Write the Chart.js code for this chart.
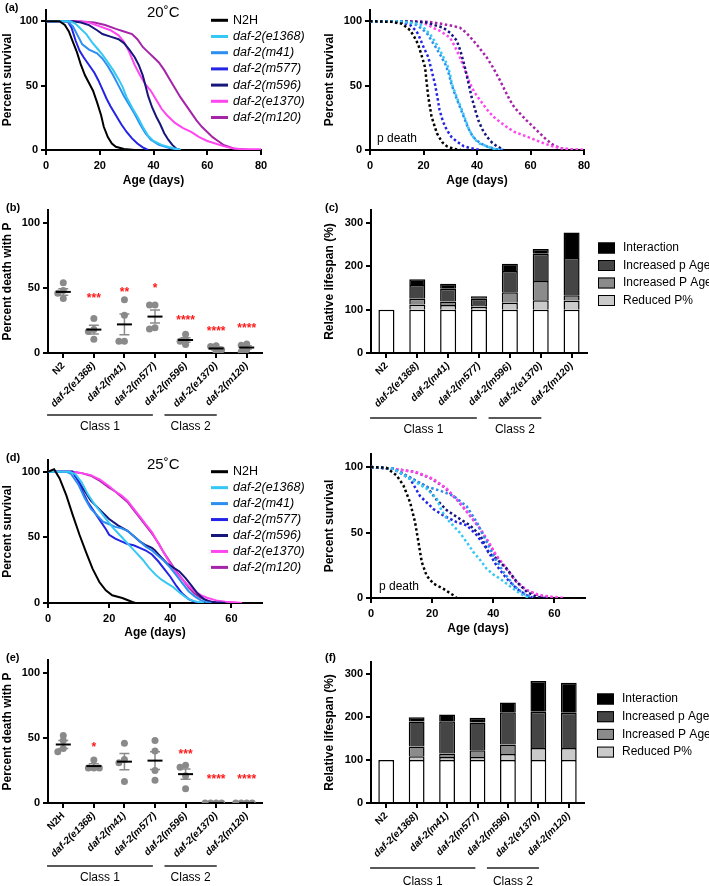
<!DOCTYPE html>
<html>
<head>
<meta charset="utf-8">
<script src="https://cdn.jsdelivr.net/npm/chart.js@4.4.1/dist/chart.umd.min.js"></script>
<style>
  body { margin: 0; background: #fff; font-family: 'Liberation Sans', Arial, sans-serif; }
  #fig { position: relative; width: 709px; height: 886px; overflow: hidden; }
  #fig canvas { position: absolute; }
  .lab { position: absolute; font-size: 11px; font-weight: bold; }
  .temp { position: absolute; font-size: 15px; }
</style>
</head>
<body>
<div id="fig">
  <canvas id="cA" width="330" height="195" style="left:0;top:0"></canvas>
  <canvas id="cA2" width="330" height="195" style="left:322px;top:0"></canvas>
  <canvas id="cB" width="330" height="244" style="left:0;top:195px"></canvas>
  <canvas id="cC" width="387" height="244" style="left:322px;top:195px"></canvas>
  <canvas id="cD" width="330" height="207" style="left:0;top:435px"></canvas>
  <canvas id="cD2" width="330" height="207" style="left:322px;top:435px"></canvas>
  <canvas id="cE" width="330" height="244" style="left:0;top:642px"></canvas>
  <canvas id="cF" width="387" height="244" style="left:322px;top:642px"></canvas>
  <div class="lab" style="left:5px;top:1px">(a)</div>
  <div class="lab" style="left:6px;top:201px">(b)</div>
  <div class="lab" style="left:325px;top:201px">(c)</div>
  <div class="lab" style="left:6px;top:451px">(d)</div>
  <div class="lab" style="left:6px;top:651px">(e)</div>
  <div class="lab" style="left:325px;top:651px">(f)</div>
  <div class="temp" style="left:147px;top:3px">20˚C</div>
  <div class="temp" style="left:147px;top:455px">25˚C</div>
</div>
<script>
// ---- data ----
var strains = ["N2H", "daf-2(e1368)", "daf-2(m41)", "daf-2(m577)", "daf-2(m596)", "daf-2(e1370)", "daf-2(m120)"];
var catsB = ["N2", "daf-2(e1368)", "daf-2(m41)", "daf-2(m577)", "daf-2(m596)", "daf-2(e1370)", "daf-2(m120)"];
var catsE = ["N2H", "daf-2(e1368)", "daf-2(m41)", "daf-2(m577)", "daf-2(m596)", "daf-2(e1370)", "daf-2(m120)"];
var classNames = ["Class 1", "Class 2"];

// 20C survival (day, %)
var s20_N2H = [[0,100],[5,100],[7,97],[8.5,92],[10,84],[11.5,76],[13,66],[14.5,58],[16,52],[17.5,46],[19,37],[20.5,27],[21.5,18],[23,10],[24.5,5],[26,2.5],[29,0.8],[33,0]];
var s20_e1368 = [[0,100],[9,100],[11,98],[13,94],[15,90],[17,84],[19,79],[21,74],[23,68],[25,62],[27,55],[28.5,49],[30,41],[32,33],[34,26],[36,18],[38,11],[40,7],[43,4],[47,1.5],[50,0]];
var s20_m41 = [[0,100],[8,100],[10,96],[12,88],[13.5,82],[16,78],[19,75],[21,71],[23,65],[25,58],[27,50],[29,42],[31,35],[33,28],[35,20],[37,13],[39,8],[42,4],[46,1.5],[50,0]];
var s20_m577 = [[0,100],[8,100],[9.5,95],[11,85],[12.5,77],[14,72],[16,66],[18,60],[19.5,54],[21,47],[22.5,40],[24,34],[26,27],[28,20],[30,14],[32,9],[34,5],[36,2],[38,0]];
var s20_m596 = [[0,100],[10,100],[13,99],[16,97],[19,93],[21,90],[24,88],[27,86],[29,83],[31,78],[33,72],[34.5,66],[36,58],[37,50],[38,42],[39.5,33],[41,26],[42.5,20],[44,13],[45.5,8],[47,4],[48.5,1],[50,0]];
var s20_e1370 = [[0,100],[12,100],[16,99],[20,96],[24,93],[27,89],[29,84],[31,76],[33,66],[35,58],[37,51],[39,46],[41,39],[43,32],[45,27],[48,21],[51,17],[54,14],[57,10],[60,7],[63,5],[66,3],[69,1.5],[72,0.8],[80,0.5]];
var s20_m120 = [[0,100],[12,100],[18,99],[22,97],[26,94],[29,92],[32,90],[34,86],[36,80],[38,76],[40,72],[42,68],[44,62],[46,55],[48,48],[50,41],[52,35],[54,29],[56,23],[58,18],[60,14],[62,10],[64,7],[66,4],[68,2.5],[70,1],[73,0.5],[76,0]];

// 20C p death
var p20_N2H = [[0,100],[8,99.5],[12,98],[15,93],[16.5,88],[18,82],[19.5,72],[20.6,64],[21.2,52],[21.8,41],[23,26],[25,13],[27,6],[28.7,3],[31,1],[34,0]];
var p20_e1368 = [[0,100],[10,100],[15,99],[18.7,97.7],[20.5,94],[22.4,90],[24,85],[25.5,80],[27,74],[28.7,67],[29.8,60],[30.6,51.5],[32.4,41],[34,33],[34.9,28],[36.8,17],[38,12],[39.3,8],[41,5],[43.6,3],[46,1],[48.6,0]];
var p20_m41 = [[0,100],[10,100],[14,99],[17.5,97],[19.5,94],[21.5,90],[23,85],[24.5,80],[26.5,73],[28.3,66],[29.5,59],[30.3,52],[31.8,43],[33.5,34],[35,26],[36.5,18],[38,12],[39.5,8],[41.5,5],[44,2.5],[47,0.8],[50,0]];
var p20_m577 = [[0,100],[8,100],[12,99],[15,97],[17,93],[18,90],[20,80],[21.8,72],[23,62],[24.3,51],[25.2,41],[26,31],[27.3,22],[28.7,15.6],[30.5,10],[32.4,6.7],[35,3],[37.4,1.5],[41,0]];
var p20_m596 = [[0,100],[12,100],[17,99.5],[21,99],[24,97],[27.4,95],[30,91],[32.4,85],[33.8,77],[35.5,64],[36.8,52],[38,41],[39.2,32],[40.5,23],[42,16],[43.6,10.5],[45.5,6],[47.4,3],[50,0]];
var p20_e1370 = [[0,100],[14,100],[18,99.5],[21,97.7],[23.5,95],[26,92.6],[28,90],[30,87],[31.8,80],[33.6,72],[35.5,62],[37.4,51.5],[39,45],[41,39],[43.5,32],[46,26],[48.5,22],[51,18],[54,14],[58.6,10.5],[61.5,8],[64.8,5.4],[68,3],[71,1.5],[75,0.5],[79.7,0]];
var p20_m120 = [[0,100],[16,100],[22,99.5],[27.4,97.7],[30.5,96.5],[33.6,95],[36,91],[38.6,85],[41,79],[43.6,72],[46,64],[48.6,54],[50.5,46],[52.3,38.7],[54,33],[56,28.5],[58.5,23],[61,18],[63.5,13],[66,8],[68.5,4],[71,1.5],[74,0.5],[79.7,0]];

// 25C survival
var s25_N2H = [[0,100],[1,101],[2,102],[3.8,95],[6,82],[8.1,67],[10.3,52],[12.4,39],[14.6,26],[16.8,16],[18.9,9.7],[21,5.9],[24.3,3.8],[27.6,0.8],[28.6,0]];
var s25_e1368 = [[0,100],[7,100],[9,98],[11,92],[13,83],[15,76],[17,70],[19,64],[21,58],[23,53],[25,48],[27,43],[29,38],[31,33],[33,27],[35,22],[37,18],[39,15],[41,12],[43,8],[45,4.5],[47,2],[49,0.8],[51,0]];
var s25_m41 = [[0,100],[6,100],[7.5,98.5],[10,90],[12,80],[14,72],[16,67],[18,62],[20,60],[22,58],[24,57],[26,55],[28,51],[30,47],[32,43],[34,40],[36,36],[38,32],[40,27],[42,21],[44,15],[46,9],[48,5],[50,2],[52,0.5],[53.5,0]];
var s25_m577 = [[0,100],[8,100],[10,93],[11.5,84],[13,77],[15,70],[17,63],[19,56],[20,52],[22,49],[24,47],[26,45],[28,44],[30,42],[32,40],[34,37],[36,32],[38,26],[40,20],[42,13],[44,7],[46,3],[48,1],[50,0]];
var s25_m596 = [[0,100],[8,100],[11,89],[14,78],[17,71],[20,64],[23,59],[26,55],[28,51],[30,47],[32,44],[34,42],[35,40],[37,35],[39,30],[41,27],[43,24],[45,19],[47,13],[49,7],[51,3],[53,1],[55,0.5],[58,0]];
var s25_e1370 = [[0,100],[8,100],[11,99],[14,97.5],[17,94],[20,89],[22,85],[24,82],[26,78],[28,72],[30,66],[32,60],[34,54],[36,46],[38,38],[40,30],[42,23],[44,18],[46,13],[48,9],[50,6],[52,4],[55,2],[58,1],[61,0.5],[63.5,0]];
var s25_m120 = [[0,100],[8,100],[11,99],[14,97],[17,93],[20,88],[22,85],[24,81],[26,77],[28,71],[30,65],[32,59],[34,53],[36,46],[38,38],[40,31],[42,24],[44,18],[46,12],[48,7],[50,4],[52,2],[54,0.8],[56,0]];

// 25C p death
var p25_N2H = [[0,100],[5,99.5],[8.4,93.6],[10.6,86],[12.8,73],[14.4,58],[15.5,43],[16.6,27.5],[18.2,17],[20.4,11],[23.7,7],[27,2],[28,0]];
var p25_e1368 = [[0,100],[7.3,98.7],[12.8,91],[18.2,83.5],[21.5,76],[23,67],[25,60],[29,50],[31.5,42],[33.5,35],[35.7,29],[37.8,22.4],[40,18],[42.2,14.8],[46.6,7],[49,3],[51,0.8],[52,0]];
var p25_m41 = [[0,100],[7.3,98.7],[12.8,92],[18.2,85],[22.6,82],[27,78],[31.3,70],[34.6,58],[37.8,43],[40,32.6],[43.3,20],[46.6,9.7],[49.8,3.3],[53,0]];
var p25_m577 = [[0,100],[7.3,98.7],[12.8,91],[16,78],[20.4,68],[23.7,63],[28,58],[31.3,55.5],[34.6,48],[37.8,37.7],[41,25],[44.4,14.8],[47.7,7],[51,2],[53,0]];
var p25_m596 = [[0,100],[7.3,98.7],[12.8,92],[18.2,85],[21.5,75],[24.8,67],[28,62],[32.4,55.5],[35.7,48],[38.4,35],[41,30],[44.4,22.4],[47.7,12.2],[51,4.6],[54.2,0.8],[57.5,0]];
var p25_e1370 = [[0,100],[7.3,98.7],[15,96],[20.4,91],[24.8,83.5],[29,73],[32.4,63],[35.7,53],[38.4,43],[41,32.6],[44.4,22.4],[47.7,12.2],[51,5.9],[55.3,2],[59.7,0.8],[63.5,0]];
var p25_m120 = [[0,100],[7.3,98.7],[14,96.5],[19.5,91.5],[24,84.5],[28.5,74],[32,64],[35.3,54],[38,44],[40.6,33.5],[44,23],[47.3,13],[50.5,6.5],[54.5,2.3],[58,0.8],[61,0]];

// (b) percent death with P, 20C
var b_pts = [[54,48,46,42],[26.5,18,16.5,10.5],[41,29,9,9],[37,37,19.5,18.5],[14.5,10,9,6.5],[5.5,5,2.5,1],[7,6,2.5,1]];
var b_mean = [47, 18, 22, 28, 10, 3.5, 4.2];
var b_sem = [2.5, 3.4, 8, 5, 1.7, 1.2, 1.4];
var b_stars = ["", "***", "**", "*", "****", "****", "****"];
var b_starY = [null, 44, 48.5, 51.5, 27, 18.2, 20.5];

// (e) percent death with P, 25C
var e_pts = [[52,48,42,39.5],[33,27,27,27],[46,33.5,31,16.5],[48,40,25,17.5],[29,27.5,21,11],[0,0,0,0],[0,0,0,0]];
var e_mean = [45, 28.4, 31.8, 32.6, 22.2, 0, 0];
var e_sem = [3, 1.8, 6.2, 6.9, 4, 0, 0];
var e_stars = ["", "*", "", "", "***", "****", "****"];
var e_starY = [null, 44.6, null, null, 39, 19.8, 19.8];

// (c)/(f) relative lifespan parts
var barSeries = ["", "Reduced P%", "Increased P Age", "Increased p Age", "Interaction"];
var c_base = [100, 100, 100, 100, 100, 100, 100];
var c_reduced = [0, 12, 11, 7, 16, 22, 21];
var c_incP = [0, 13, 8, 4, 24, 44, 12];
var c_incp = [0, 32, 29, 14, 49, 63, 86];
var c_inter = [0, 13, 12, 6, 17, 11, 59];
var f_base = [100, 100, 100, 100, 100, 100, 100];
var f_reduced = [0, 8.5, 7, 7, 14, 28, 28];
var f_incP = [0, 23, 8, 15.5, 22, 0, 0];
var f_incp = [0, 58, 75, 65, 75, 84, 82];
var f_inter = [0, 10, 16, 11, 23, 72, 70];

// ---- styles ----
var FONT = "'Liberation Sans', Arial, sans-serif";
var strainColors = ["#000000", "#35c8f4", "#2b8ef0", "#2424e6", "#16167c", "#ff46f0", "#a524a8"];
var barFill = ["#ffffff", "#cacaca", "#8b8b8b", "#454545", "#000000"];
var classSpans = [[-0.53, 2.93], [3.31, 5.02]];

Chart.defaults.font.family = FONT;
Chart.defaults.color = "#000";
Chart.defaults.animation = false;

function tickGrid() {
  return { drawOnChartArea: false, tickLength: 5, color: "#000", lineWidth: 2 };
}

function yAxis(max, step, title, width) {
  return {
    type: "linear", min: 0, max: max,
    ticks: { stepSize: step, includeBounds: false, padding: 3, font: { size: 11, weight: "bold" } },
    grid: tickGrid(),
    border: { color: "#000", width: 2 },
    title: { display: true, text: title, font: { size: 12, weight: "bold" }, padding: 0 },
    afterFit: function (s) { s.width = width; }
  };
}

function xDays(max, height) {
  return {
    type: "linear", min: 0, max: max,
    ticks: { stepSize: 20, includeBounds: false, padding: 4, maxRotation: 0, font: { size: 11, weight: "bold" } },
    grid: tickGrid(),
    border: { color: "#000", width: 2 },
    title: { display: true, text: "Age (days)", font: { size: 12, weight: "bold" }, padding: { top: 0, bottom: 2 } },
    afterFit: function (s) { s.height = height; }
  };
}

function catFont(ctx) {
  return { size: 10, weight: "bold", style: ctx.index === 0 ? "normal" : "italic" };
}

// custom drawing: legends, mean/SEM, stars, class lines, notes
function extras(cfg) {
  return {
    id: "extras",
    afterDatasetsDraw: function (chart) {
      var ctx = chart.ctx, xs = chart.scales.x, ys = chart.scales.y, area = chart.chartArea;
      ctx.save();
      ctx.setLineDash([]);
      if (cfg.lineLegend) {
        var L = cfg.lineLegend;
        chart.data.datasets.forEach(function (ds, i) {
          var y = L.y + i * L.dy;
          ctx.strokeStyle = ds.borderColor;
          ctx.lineWidth = 3;
          ctx.beginPath(); ctx.moveTo(L.x, y); ctx.lineTo(L.x + 17, y); ctx.stroke();
          ctx.fillStyle = "#000";
          ctx.font = (i ? "italic " : "") + "12.5px " + FONT;
          ctx.textAlign = "left"; ctx.textBaseline = "middle";
          ctx.fillText(ds.label, L.x + 22, y);
        });
      }
      if (cfg.boxLegend) {
        var B = cfg.boxLegend;
        var sets = chart.data.datasets.filter(function (d) { return d.label; }).reverse();
        sets.forEach(function (ds, i) {
          var y = B.y + i * B.dy;
          ctx.fillStyle = ds.backgroundColor;
          ctx.fillRect(B.x, y - 5.5, 17, 11);
          ctx.strokeStyle = "#000"; ctx.lineWidth = 1;
          ctx.strokeRect(B.x + 0.5, y - 5, 16, 10);
          ctx.fillStyle = "#000";
          ctx.font = "12px " + FONT;
          ctx.textAlign = "left"; ctx.textBaseline = "middle";
          ctx.fillText(ds.label, B.x + 25, y);
        });
      }
      if (cfg.means) {
        cfg.means.mean.forEach(function (m, i) {
          var x = xs.getPixelForValue(i);
          var s = cfg.means.sem[i];
          if (s > 0) {
            var yt = ys.getPixelForValue(m + s), yb = ys.getPixelForValue(m - s);
            ctx.strokeStyle = "#8a8a8a"; ctx.lineWidth = 1.5;
            ctx.beginPath();
            ctx.moveTo(x, yt); ctx.lineTo(x, yb);
            ctx.moveTo(x - 5, yt); ctx.lineTo(x + 5, yt);
            ctx.moveTo(x - 5, yb); ctx.lineTo(x + 5, yb);
            ctx.stroke();
          }
          var ym = ys.getPixelForValue(m);
          ctx.strokeStyle = "#000"; ctx.lineWidth = 2;
          ctx.beginPath(); ctx.moveTo(x - 7.5, ym); ctx.lineTo(x + 7.5, ym); ctx.stroke();
        });
      }
      if (cfg.stars) {
        ctx.fillStyle = "#ff1a1a";
        ctx.font = "bold 12px " + FONT;
        ctx.textAlign = "center"; ctx.textBaseline = "alphabetic";
        cfg.stars.text.forEach(function (t, i) {
          if (!t) return;
          ctx.fillText(t, xs.getPixelForValue(i), ys.getPixelForValue(cfg.stars.y[i]) + 6);
        });
      }
      if (cfg.classes) {
        var C = cfg.classes;
        classSpans.forEach(function (sp, k) {
          var x1 = xs.getPixelForValue(sp[0]), x2 = xs.getPixelForValue(sp[1]);
          var yl = area.bottom + C.line;
          ctx.strokeStyle = "#222"; ctx.lineWidth = 1.5;
          ctx.beginPath(); ctx.moveTo(x1, yl); ctx.lineTo(x2, yl); ctx.stroke();
          ctx.fillStyle = "#000";
          ctx.font = "12px " + FONT;
          ctx.textAlign = "center"; ctx.textBaseline = "middle";
          ctx.fillText(classNames[k], (x1 + x2) / 2, area.bottom + C.text);
        });
      }
      if (cfg.note) {
        ctx.fillStyle = "#000";
        ctx.font = "12px " + FONT;
        ctx.textAlign = "left"; ctx.textBaseline = "middle";
        ctx.fillText(cfg.note.text, cfg.note.x, cfg.note.y);
      }
      ctx.restore();
    }
  };
}

function curveSets(curves, dotted) {
  return curves.map(function (c, i) {
    return {
      label: strains[i],
      data: c,
      showLine: true,
      pointRadius: 0,
      borderColor: strainColors[i],
      backgroundColor: strainColors[i],
      borderWidth: dotted ? 2.5 : 2,
      borderDash: dotted ? [2.5, 2.5] : [],
      tension: 0
    };
  });
}

function survivalChart(id, curves, dotted, xmax, ymax, pad, yW, xH, cfg) {
  return new Chart(document.getElementById(id), {
    type: "scatter",
    data: { datasets: curveSets(curves, dotted) },
    options: {
      responsive: false,
      layout: { padding: pad },
      plugins: { legend: { display: false }, tooltip: { enabled: false } },
      scales: { x: xDays(xmax, xH), y: yAxis(ymax, 50, "Percent survival", yW) }
    },
    plugins: [extras(cfg)]
  });
}

// horizontal spread of points with close values (beeswarm)
function swarm(vals, i) {
  var offs = [0, -0.18, 0.18, -0.36, 0.36];
  var placed = [];
  return vals.map(function (v) {
    var o = offs.find(function (cand) {
      return !placed.some(function (p) { return p.o === cand && Math.abs(p.v - v) < 3.5; });
    });
    if (o === undefined) o = 0;
    placed.push({ v: v, o: o });
    return { x: i + o, y: v };
  });
}

function dotChart(id, cats, pts, mean, sem, starT, starY, pad, cls) {
  var data = [];
  pts.forEach(function (vals, i) { data = data.concat(swarm(vals, i)); });
  return new Chart(document.getElementById(id), {
    type: "scatter",
    data: { datasets: [{ data: data, pointRadius: 3.5, pointBorderWidth: 0, backgroundColor: "#8a8a8a", borderColor: "#8a8a8a" }] },
    options: {
      responsive: false,
      layout: { padding: pad },
      plugins: { legend: { display: false }, tooltip: { enabled: false } },
      scales: {
        x: {
          type: "linear", min: -0.5, max: 6.5,
          afterBuildTicks: function (s) { s.ticks = cats.map(function (c, k) { return { value: k }; }); },
          ticks: { minRotation: 45, maxRotation: 45, padding: 2, font: catFont,
                   callback: function (v) { return cats[v]; } },
          grid: tickGrid(),
          border: { color: "#000", width: 2 },
          afterFit: function (s) { s.height = 75; }
        },
        y: yAxis(110, 50, "Percent death with P", 48)
      }
    },
    plugins: [extras({ means: { mean: mean, sem: sem }, stars: { text: starT, y: starY }, classes: cls })]
  });
}

function barChart(id, parts, ymax, pad, legend, cls) {
  var sets = parts.map(function (vals, k) {
    return {
      label: barSeries[k],
      data: vals.map(function (v) { return v === 0 ? null : v; }),
      backgroundColor: barFill[k],
      borderColor: "#000",
      borderWidth: 1.5,
      borderSkipped: "start",
      barPercentage: 0.52,
      categoryPercentage: 1
    };
  });
  return new Chart(document.getElementById(id), {
    type: "bar",
    data: { labels: catsB, datasets: sets },
    options: {
      responsive: false,
      layout: { padding: pad },
      plugins: { legend: { display: false }, tooltip: { enabled: false } },
      scales: {
        x: {
          stacked: true,
          ticks: { minRotation: 45, maxRotation: 45, padding: 2, font: catFont },
          grid: { offset: false, drawOnChartArea: false, tickLength: 5, color: "#000", lineWidth: 2 },
          border: { color: "#000", width: 2 },
          afterFit: function (s) { s.height = 75; }
        },
        y: Object.assign(yAxis(ymax, 100, "Relative lifespan (%)", 49), { stacked: true })
      }
    },
    plugins: [extras({ boxLegend: legend, classes: cls })]
  });
}

// (a)
survivalChart("cA", [s20_N2H, s20_e1368, s20_m41, s20_m577, s20_m596, s20_e1370, s20_m120], false, 80, 109,
  { top: 8, right: 69, bottom: 5, left: 0 }, 46, 40, { lineLegend: { x: 211, y: 20.3, dy: 16.2 } });
survivalChart("cA2", [p20_N2H, p20_e1368, p20_m41, p20_m577, p20_m596, p20_e1370, p20_m120], true, 80, 109,
  { top: 8, right: 68, bottom: 5, left: 0 }, 48, 40, { note: { text: "p death", x: 55, y: 139 } });
// (b), (c)
dotChart("cB", catsB, b_pts, b_mean, b_sem, b_stars, b_starY, { top: 15, right: 68, bottom: 11, left: 0 }, { line: 62, text: 74 });
barChart("cC", [c_base, c_reduced, c_incP, c_incp, c_inter], 330, { top: 15, right: 122, bottom: 11, left: 0 },
  { x: 276, y: 53, dy: 17.5 }, { line: 65, text: 77 });
// (d)
survivalChart("cD", [s25_N2H, s25_e1368, s25_m41, s25_m577, s25_m596, s25_e1370, s25_m120], false, 70, 109,
  { top: 25, right: 68, bottom: 0, left: 0 }, 48, 39, { lineLegend: { x: 211, y: 36.7, dy: 15.95 } });
survivalChart("cD2", [p25_N2H, p25_e1368, p25_m41, p25_m577, p25_m596, p25_e1370, p25_m120], true, 70, 110,
  { top: 19, right: 67, bottom: 4, left: 0 }, 49, 40, { note: { text: "p death", x: 57, y: 152 } });
// (e), (f)
dotChart("cE", catsE, e_pts, e_mean, e_sem, e_stars, e_starY, { top: 18, right: 68, bottom: 8, left: 0 }, { line: 63, text: 75 });
barChart("cF", [f_base, f_reduced, f_incP, f_incp, f_inter], 328, { top: 20, right: 125, bottom: 8, left: 0 },
  { x: 275, y: 57, dy: 17.7 }, { line: 65, text: 79 });
</script>
</body>
</html>
